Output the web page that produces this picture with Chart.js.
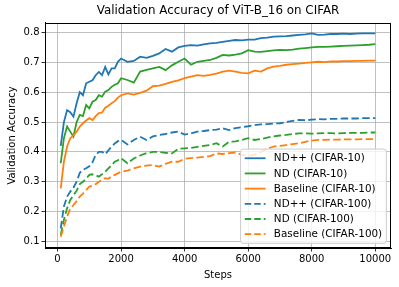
<!DOCTYPE html>
<html>
<head>
<meta charset="utf-8">
<script src="https://cdn.jsdelivr.net/npm/chart.js@4/dist/chart.umd.min.js"></script>
<style>
html,body{margin:0;padding:0;background:#fff;}
#wrap{width:399px;height:287px;position:relative;}
</style>
</head>
<body>
<div id="wrap"><canvas id="c" width="399" height="287"></canvas></div>
<script>
const steps = [100,200,300,400,500,600,700,800,900,1000,1100,1200,1300,1400,1500,1600,1700,1800,1900,2000,
  2200,2400,2600,2800,3000,3200,3400,3600,3800,4000,4200,4400,4600,4800,5000,5200,5400,5600,5800,6000,
  6200,6400,6600,6800,7000,7200,7400,7600,7800,8000,8200,8400,8600,8800,9000,9200,9400,9600,9800,10000];

const ndppC10 = [0.42,0.50,0.54,0.533,0.518,0.563,0.60,0.59,0.63,0.635,0.64,0.657,0.668,0.657,0.685,0.66,0.68,0.68,0.702,0.713,
  0.702,0.705,0.719,0.715,0.722,0.73,0.745,0.736,0.75,0.755,0.758,0.756,0.76,0.764,0.765,0.769,0.772,0.775,0.774,0.776,
  0.776,0.781,0.783,0.786,0.787,0.788,0.790,0.792,0.794,0.797,0.792,0.793,0.795,0.795,0.796,0.795,0.796,0.797,0.797,0.797];

const ndC10 = [0.362,0.446,0.485,0.468,0.451,0.50,0.524,0.52,0.557,0.546,0.568,0.574,0.59,0.585,0.602,0.607,0.618,0.625,0.63,0.647,
  0.641,0.632,0.669,0.675,0.68,0.685,0.674,0.69,0.702,0.713,0.692,0.702,0.705,0.708,0.715,0.725,0.723,0.726,0.73,0.741,
  0.736,0.735,0.738,0.74,0.742,0.741,0.743,0.746,0.748,0.75,0.752,0.752,0.753,0.754,0.755,0.756,0.757,0.758,0.759,0.761];

const baseC10 = [0.278,0.367,0.418,0.446,0.455,0.468,0.485,0.496,0.505,0.513,0.507,0.52,0.53,0.532,0.548,0.555,0.563,0.57,0.582,0.59,
  0.596,0.592,0.598,0.605,0.62,0.622,0.628,0.635,0.64,0.647,0.652,0.657,0.655,0.658,0.662,0.669,0.672,0.669,0.665,0.663,
  0.672,0.669,0.68,0.686,0.688,0.692,0.694,0.696,0.698,0.70,0.702,0.701,0.703,0.703,0.704,0.704,0.705,0.705,0.706,0.706];

const ndppC100 = [0.144,0.217,0.25,0.267,0.28,0.30,0.33,0.34,0.345,0.352,0.365,0.39,0.40,0.40,0.392,0.405,0.418,0.428,0.436,0.44,
  0.425,0.44,0.451,0.44,0.452,0.457,0.46,0.465,0.468,0.458,0.462,0.468,0.47,0.473,0.475,0.479,0.473,0.48,0.483,0.486,
  0.49,0.492,0.493,0.495,0.496,0.50,0.504,0.507,0.506,0.508,0.51,0.509,0.511,0.511,0.512,0.512,0.512,0.513,0.513,0.513];

const ndC100 = [0.122,0.172,0.211,0.239,0.255,0.27,0.292,0.30,0.31,0.323,0.325,0.322,0.317,0.325,0.334,0.345,0.355,0.367,0.372,0.379,
  0.362,0.378,0.388,0.396,0.40,0.40,0.397,0.395,0.41,0.412,0.413,0.417,0.42,0.423,0.429,0.418,0.434,0.435,0.44,0.446,
  0.44,0.443,0.448,0.452,0.455,0.457,0.46,0.462,0.462,0.461,0.462,0.463,0.463,0.462,0.463,0.464,0.464,0.464,0.465,0.465];

const baseC100 = [0.116,0.15,0.183,0.211,0.222,0.235,0.25,0.26,0.272,0.284,0.287,0.292,0.30,0.306,0.312,0.31,0.318,0.323,0.328,0.334,
  0.337,0.345,0.351,0.354,0.356,0.351,0.36,0.367,0.367,0.377,0.379,0.381,0.383,0.386,0.395,0.393,0.396,0.398,0.39,0.387,
  0.39,0.40,0.41,0.418,0.42,0.423,0.426,0.429,0.434,0.438,0.44,0.44,0.441,0.441,0.442,0.442,0.442,0.443,0.443,0.443];

const seriesLabels = ['ND++ (CIFAR-10)','ND (CIFAR-10)','Baseline (CIFAR-10)','ND++ (CIFAR-100)','ND (CIFAR-100)','Baseline (CIFAR-100)'];
const seriesValues = [ndppC10, ndC10, baseC10, ndppC100, ndC100, baseC100];
const xTicks = [0,2000,4000,6000,8000,10000];
const yTicks = [0.1,0.2,0.3,0.4,0.5,0.6,0.7,0.8];
const titleText = 'Validation Accuracy of ViT-B_16 on CIFAR';
const xTitle = 'Steps';
const yTitle = 'Validation Accuracy';

const colors = ['#1f77b4','#2ca02c','#ff7f0e','#1f77b4','#2ca02c','#ff7f0e'];
const FONT = '"DejaVu Sans", sans-serif';
const DASH = [7.5, 3.3];

const datasets = seriesValues.map((vals, i) => ({
  label: seriesLabels[i],
  data: steps.map((s, j) => ({x: s, y: vals[j]})),
  borderColor: colors[i],
  backgroundColor: colors[i],
  borderWidth: 1.8,
  borderDash: i >= 3 ? DASH : [],
  pointRadius: 0,
  tension: 0,
  fill: false,
  order: 6 - i
}));

const framePlugin = {
  id: 'frame',
  afterDatasetsDraw(chart) {
    const ctx = chart.ctx, a = chart.chartArea;
    ctx.save();
    ctx.strokeStyle = '#000';
    ctx.lineWidth = 1;
    ctx.strokeRect(Math.round(a.left) + 0.5, Math.round(a.top) + 0.5, Math.round(a.right - a.left) - 1, Math.round(a.bottom - a.top) - 1);
    ctx.restore();
  },
  afterDraw(chart) {
    const ctx = chart.ctx, a = chart.chartArea;
    const fs = 10.4;
    const em = fs;
    ctx.save();
    ctx.font = fs + 'px ' + FONT;
    const dsets = chart.data.datasets;
    let tw = 0;
    dsets.forEach(d => { tw = Math.max(tw, ctx.measureText(d.label).width); });
    const borderpad = 0.4 * em, handleLen = 2.0 * em, handlePad = 0.8 * em, axPad = 0.45 * em;
    const rowH = 0.96 * em, spacing = 0.5 * em;
    const w = 2 * borderpad + handleLen + handlePad + tw;
    const h = 2 * borderpad + dsets.length * rowH + (dsets.length - 1) * spacing;
    const x0 = a.right - axPad - w;
    const y0 = a.bottom - axPad - h;
    ctx.beginPath();
    if (ctx.roundRect) ctx.roundRect(x0, y0, w, h, 2.5); else ctx.rect(x0, y0, w, h);
    ctx.fillStyle = 'rgba(255,255,255,0.8)';
    ctx.fill();
    ctx.strokeStyle = '#cccccc';
    ctx.lineWidth = 1;
    ctx.stroke();
    dsets.forEach((d, i) => {
      const cy = y0 + borderpad + i * (rowH + spacing) + rowH / 2;
      const lx = x0 + borderpad;
      ctx.beginPath();
      ctx.setLineDash(d.borderDash && d.borderDash.length ? [6.5, 3] : []);
      ctx.strokeStyle = d.borderColor;
      ctx.lineWidth = d.borderWidth;
      ctx.moveTo(lx, cy);
      ctx.lineTo(lx + handleLen, cy);
      ctx.stroke();
      ctx.setLineDash([]);
      ctx.fillStyle = '#000';
      ctx.textBaseline = 'middle';
      ctx.textAlign = 'left';
      ctx.fillText(d.label, lx + handleLen + handlePad, cy + 0.5);
    });
    ctx.restore();
  }
};

new Chart(document.getElementById('c'), {
  type: 'line',
  data: { datasets },
  options: {
    responsive: false,
    animation: false,
    devicePixelRatio: 1,
    layout: { padding: { left: 0, right: 8, top: 0, bottom: 0 } },
    plugins: {
      legend: { display: false },
      tooltip: { enabled: false },
      title: {
        display: true,
        fullSize: false,
        text: titleText,
        color: '#000',
        font: { family: FONT, size: 11.9, weight: 'normal', lineHeight: 1.2 },
        padding: { top: 4, bottom: 4.7 }
      }
    },
    scales: {
      x: {
        type: 'linear',
        min: -395,
        max: 10495,
        afterFit(scale) { scale.height = 39; },
        afterBuildTicks(scale) { scale.ticks = xTicks.map(v => ({ value: v })); },
        ticks: {
          color: '#000',
          font: { family: FONT, size: 10 },
          padding: 2,
          maxRotation: 0,
          autoSkip: false,
          callback: v => String(v)
        },
        grid: { color: '#b0b0b0', lineWidth: 0.8, tickColor: '#000', tickLength: 3.5, drawTicks: true },
        border: { display: true, color: '#000', width: 1 },
        title: { display: true, text: xTitle, color: '#000', font: { family: FONT, size: 10 }, padding: { top: 2, bottom: 6 } }
      },
      y: {
        type: 'linear',
        min: 0.078,
        max: 0.832,
        afterFit(scale) { scale.width = 45; },
        afterBuildTicks(scale) { scale.ticks = yTicks.map(v => ({ value: v })); },
        ticks: {
          color: '#000',
          font: { family: FONT, size: 10 },
          padding: 2,
          autoSkip: false,
          callback: v => Number(v).toFixed(1)
        },
        grid: { color: '#b0b0b0', lineWidth: 0.8, tickColor: '#000', tickLength: 3.5, drawTicks: true },
        border: { display: true, color: '#000', width: 1 },
        title: { display: true, text: yTitle, color: '#000', font: { family: FONT, size: 10 }, padding: { top: 6, bottom: 2 } }
      }
    }
  },
  plugins: [framePlugin]
});
</script>
</body>
</html>
